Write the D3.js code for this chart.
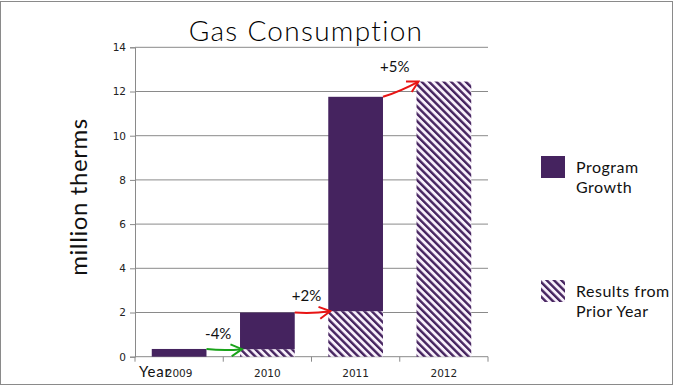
<!DOCTYPE html>
<html lang="en">
<head>
  <meta charset="UTF-8">
  <title>Gas Consumption</title>
  <script src="https://d3js.org/d3.v7.min.js"></script>
  <style>
    body { margin: 0; background: #fff; }
    svg { display: block; }
    .tick text { font-family: 'DejaVu Sans', sans-serif; font-size: 10.5px; fill: #222; }
    .title, .legend-text, .ylabel, .note { font-family: Lato, 'Open Sans', sans-serif; fill: #111; }
    .title { font-weight: 300; fill: #000; }
  </style>
</head>
<body>
<svg width="674" height="386"></svg>
<script>
  // chart data
  const years = ["2009", "2010", "2011", "2012"];
  const priorYear = [0, 0.34, 2.06, 12.45];      // Results from Prior Year (hatched)
  const programGrowth = [0.35, 1.66, 9.7, 0];    // Program Growth (solid)
  const yTicks = [0, 2, 4, 6, 8, 10, 12, 14];
  const changes = ["-4%", "+2%", "+5%"];
  const arrowColors = ["#1aa31a", "#e81414", "#e81414"];

  const purple = "#45235f";
  const svg = d3.select("svg");

  // outer frame
  svg.append("rect")
    .attr("x", 0.5).attr("y", 1.5)
    .attr("width", 672).attr("height", 383)
    .attr("fill", "none").attr("stroke", "#8a8a8a");

  const defs = svg.append("defs");
  const pat = defs.append("pattern")
    .attr("id", "hatch")
    .attr("patternUnits", "userSpaceOnUse")
    .attr("width", 5.2).attr("height", 5.2)
    .attr("patternTransform", "rotate(-45)");
  pat.append("rect").attr("width", 5.2).attr("height", 5.2).attr("fill", "#f8f0fb");
  pat.append("rect").attr("width", 2.4).attr("height", 5.2).attr("fill", purple);

  arrowColors.forEach((c, i) => {
    defs.append("marker")
      .attr("id", "head" + i)
      .attr("viewBox", "-12 -7 14 14")
      .attr("refX", 0).attr("refY", 0)
      .attr("markerWidth", 14).attr("markerHeight", 14)
      .attr("markerUnits", "userSpaceOnUse")
      .attr("orient", "auto")
      .append("path")
      .attr("d", "M-11,-6 L0,0 L-11,6")
      .attr("fill", "none").attr("stroke", c).attr("stroke-width", 2);
  });

  const x = d3.scaleBand()
    .domain(years)
    .range([135, 488])
    .paddingInner(0.38)
    .paddingOuter(0.19);

  const y = d3.scaleLinear()
    .domain([0, 14])
    .range([356.7, 47.3]);

  // gridlines
  svg.append("g")
    .selectAll("line")
    .data(yTicks.slice(1))
    .join("line")
    .attr("x1", 135).attr("x2", 488)
    .attr("y1", d => y(d)).attr("y2", d => y(d))
    .attr("stroke", "#8a8a8a");

  // y axis
  const yAxis = svg.append("g")
    .attr("transform", "translate(135,0)")
    .call(d3.axisLeft(y).tickValues(yTicks).tickSize(5).tickPadding(4).tickFormat(d3.format("d")));
  yAxis.select(".domain").attr("stroke", "#8a8a8a");
  yAxis.selectAll(".tick line").attr("stroke", "#8a8a8a");

  // x axis: ticks at category boundaries
  const step = x.step();
  const xAxis = svg.append("g").attr("transform", `translate(0,${y(0)})`);
  xAxis.append("line")
    .attr("x1", 135).attr("x2", 488)
    .attr("stroke", "#8a8a8a");
  xAxis.selectAll(".bnd")
    .data(d3.range(years.length + 1))
    .join("line")
    .attr("x1", i => 135 + i * step).attr("x2", i => 135 + i * step)
    .attr("y1", 0).attr("y2", 5)
    .attr("stroke", "#8a8a8a");
  xAxis.selectAll(".lbl")
    .data(years)
    .join("text")
    .attr("x", d => x(d) + x.bandwidth() / 2)
    .attr("y", 20)
    .attr("text-anchor", "middle")
    .style("font-family", "'DejaVu Sans', sans-serif")
    .style("font-size", "10.5px")
    .attr("fill", "#222")
    .text(d => d);

  // axis title, overlapping the first label as in the original
  svg.append("text")
    .attr("class", "note")
    .attr("x", 139).attr("y", 376.5)
    .style("font-size", "15px")
    .style("letter-spacing", "0.8px")
    .text("Year");

  // stacked bars
  const bars = svg.append("g");
  bars.selectAll(".prior")
    .data(years)
    .join("rect")
    .attr("x", d => x(d))
    .attr("width", x.bandwidth())
    .attr("y", (d, i) => y(priorYear[i]))
    .attr("height", (d, i) => y(0) - y(priorYear[i]))
    .attr("fill", "url(#hatch)");
  bars.selectAll(".growth")
    .data(years)
    .join("rect")
    .attr("x", d => x(d))
    .attr("width", x.bandwidth())
    .attr("y", (d, i) => y(priorYear[i] + programGrowth[i]))
    .attr("height", (d, i) => y(priorYear[i]) - y(priorYear[i] + programGrowth[i]))
    .attr("fill", purple);

  // arrows between bars
  changes.forEach((c, i) => {
    const x0 = x(years[i]) + x.bandwidth();
    const y0 = y(priorYear[i] + programGrowth[i]);
    const x1 = x(years[i + 1]) + 2;
    const y1 = y(priorYear[i + 1]);
    const mx = (x0 + x1) / 2, my = (y0 + y1) / 2 + 2;
    svg.append("path")
      .attr("d", `M${x0},${y0} Q${mx},${my} ${x1},${y1}`)
      .attr("fill", "none")
      .attr("stroke", arrowColors[i])
      .attr("stroke-width", 2)
      .attr("marker-end", `url(#head${i})`);
    svg.append("text")
      .attr("class", "note")
      .attr("x", mx - 6)
      .attr("y", Math.min(y0, y1) - 10)
      .attr("text-anchor", "middle")
      .style("font-size", "15px")
      .text(c);
  });

  // title
  svg.append("text")
    .attr("class", "title")
    .attr("x", 306).attr("y", 41)
    .attr("text-anchor", "middle")
    .style("font-size", "28px")
    .style("letter-spacing", "1.3px")
    .text("Gas Consumption");

  // y label
  svg.append("text")
    .attr("class", "ylabel")
    .attr("transform", "translate(87,197) rotate(-90)")
    .attr("text-anchor", "middle")
    .style("font-size", "24px")
    .style("letter-spacing", "0.6px")
    .text("million therms");

  // legend
  const legend = [
    { fill: purple, lines: ["Program", "Growth"], y: 156 },
    { fill: "url(#hatch)", lines: ["Results from", "Prior Year"], y: 280 }
  ];
  const lg = svg.append("g");
  legend.forEach(l => {
    lg.append("rect")
      .attr("x", 541).attr("y", l.y)
      .attr("width", 24).attr("height", 22)
      .attr("fill", l.fill);
    l.lines.forEach((t, j) => {
      lg.append("text")
        .attr("class", "legend-text")
        .attr("x", 576)
        .attr("y", l.y + 17 + j * 19.5)
        .style("font-size", "16px")
        .style("letter-spacing", "0.5px")
        .text(t);
    });
  });
</script>
</body>
</html>
